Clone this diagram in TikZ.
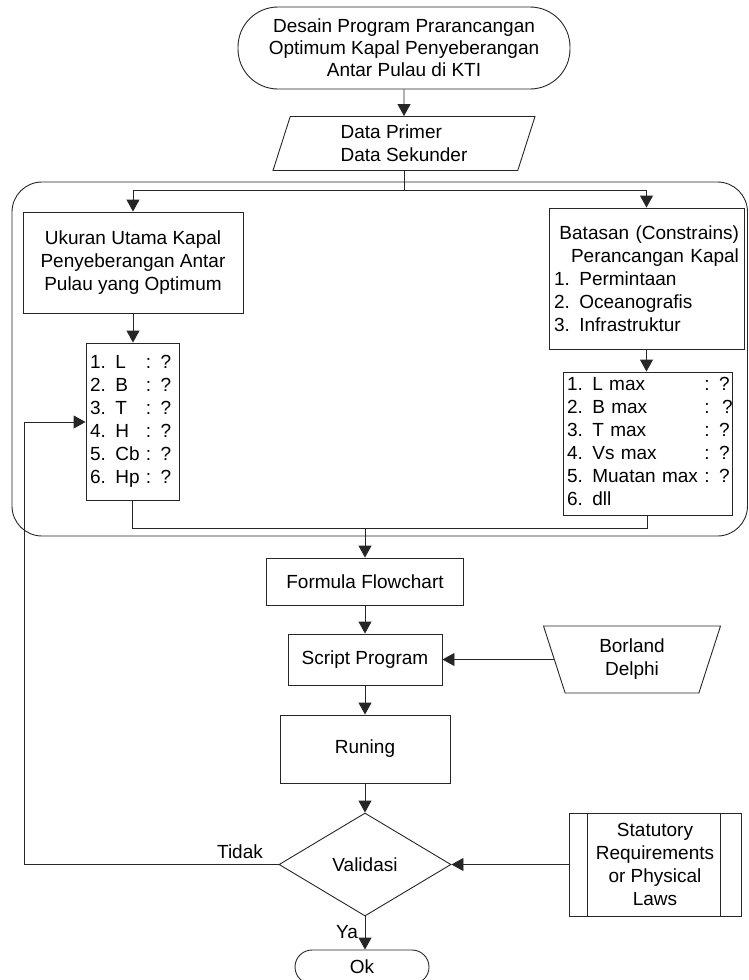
\documentclass[tikz,border=0pt]{standalone}
\usepackage{fontspec}
\setmainfont{Liberation Sans}
\usetikzlibrary{arrows.meta,shapes.geometric,calc}
\tikzset{
  base/.style={draw=black!85, line width=0.9pt, font=\fontsize{19}{23}\selectfont, inner sep=0pt},
  boxnode/.style={base, rectangle},
  listnode/.style={base, rectangle, align=left, inner xsep=4pt},
  conn/.style={draw=black!85, line width=0.9pt},
  arr/.style={conn, -{Triangle[length=12pt,width=13pt]}},
  lbl/.style={font=\fontsize{19}{23}\selectfont, inner sep=0pt}
}
\begin{document}
\begin{tikzpicture}[x=1pt,y=-1pt]
\useasboundingbox (0,0) rectangle (749,980);
% container
\draw[conn, rounded corners=30pt] (12,182) rectangle (747.5,536);
% nodes
\node[boxnode, rounded corners=40pt, minimum width=332pt, minimum height=82pt, align=center, font=\fontsize{19}{22}\selectfont] (start) at (404,48)
  {Desain Program Prarancangan\\Optimum Kapal Penyeberangan\\Antar Pulau di KTI};
\node[base, trapezium, trapezium left angle=65, trapezium right angle=115, trapezium stretches body,
  minimum width=262pt, minimum height=54pt, align=left] (data) at (404,143.5)
  {Data Primer\\Data Sekunder};
\node[boxnode, minimum width=220pt, minimum height=101pt, align=center] (uk) at (133,262.5)
  {Ukuran Utama Kapal\\Penyeberangan Antar\\Pulau yang Optimum};
\node[listnode, text width=85pt, minimum height=157pt] (ll) at (132.5,421.5)
  {\begin{tabular}{@{}l@{\ }l@{}}1. L & : ?\\2. B & : ?\\3. T & : ?\\4. H & : ?\\5. Cb & : ?\\6. Hp & : ?\end{tabular}};
\node[listnode, text width=185pt, inner xsep=5pt, minimum height=141pt] (bt) at (646.5,278.5)
  {\hspace*{\fill}Batasan (Constrains)\hspace*{\fill}\\
   \hspace*{\fill}Perancangan Kapal\hspace*{\fill}\\
   1. Permintaan\\2. Oceanografis\\3. Infrastruktur};
\node[listnode, text width=161pt, minimum height=143pt] (rl) at (647.5,443.5)
  {\begin{tabular}{@{}l@{\ }l@{}}1. L max & : ?\\2. B max & :\ \ ?\\3. T max & : ?\\4. Vs max & : ?\\5. Muatan max & : ?\\6. dll & \end{tabular}};
\node[boxnode, minimum width=197pt, minimum height=47pt] (ff) at (365,581.5) {Formula Flowchart};
\node[boxnode, minimum width=154pt, minimum height=51pt] (sp) at (365,659.5) {Script Program};
\node[base, trapezium, trapezium left angle=118, trapezium right angle=118, trapezium stretches body,
  minimum width=177pt, minimum height=67pt, align=center] (bd) at (632,659.5)
  {Borland\\Delphi};
\node[boxnode, minimum width=170pt, minimum height=68pt] (run) at (365,749) {Runing};
\node[base, diamond, aspect=1.67, minimum width=172pt, minimum height=103pt] (val) at (365,864.5) {Validasi};
\node[boxnode, minimum width=172pt, minimum height=103pt, align=center] (st) at (655,864.5)
  {Statutory\\Requirements\\or Physical\\Laws};
\draw[conn] ($(st.north west)+(19,0)$) -- ($(st.south west)+(19,0)$);
\draw[conn] ($(st.north east)+(-21,0)$) -- ($(st.south east)+(-21,0)$);
\node[boxnode, rounded corners=17pt, minimum width=134pt, minimum height=34pt] (ok) at (362,967) {Ok};
% labels
\node[lbl] (tidak) at (240,852) {Tidak};
\node[lbl] (ya) at (347,932) {Ya};
% coordinates
\coordinate (split) at ($(data.south)+(0,19)$);
\coordinate (merge) at (365,528);
\coordinate (fbA) at (24,864.5);
\coordinate (fbB) at (24,422);
% connectors
\draw[arr] (start.south) -- (data.north);
\draw[conn] (data.south) -- (split);
\draw[arr] (split) -| (uk.north);
\draw[arr] (split) -| (bt.north);
\draw[arr] (uk.south) -- (uk.south |- ll.north);
\draw[arr] (bt.south) -- (bt.south |- rl.north);
\draw[conn] (ll.south) |- (merge);
\draw[conn] (rl.south) |- (merge);
\draw[arr] (merge) -- (ff.north);
\draw[arr] (ff.south) -- (sp.north);
\draw[arr] (bd.left side) -- (sp.east);
\draw[arr] (sp.south) -- (run.north);
\draw[arr] (run.south) -- (val.north);
\draw[arr] (st.west) -- (val.east);
\draw[arr] (val.west) -- (fbA) -- (fbB) -- (fbB -| ll.west);
\draw[arr] (val.south) -- (val.south |- ok.north);
\end{tikzpicture}
\end{document}
